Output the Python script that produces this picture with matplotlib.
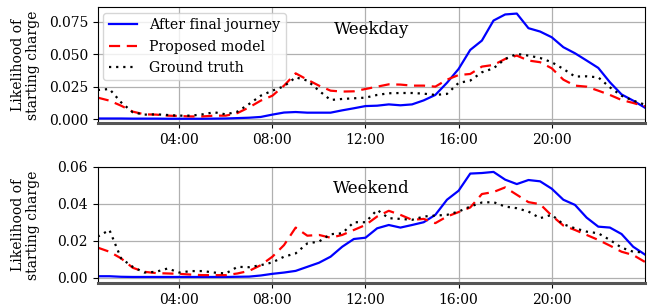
import matplotlib
matplotlib.use("Agg")
import matplotlib.pyplot as plt
import numpy as np

plt.rcParams["font.family"] = ["DejaVu Serif"]
plt.rcParams["font.size"] = 10

# half-hour bins, 00:30 .. 24:00
hours = np.arange(1, 49) * 0.5

weekday_after_final = [
    0.0004, 0.0004, 0.0004, 0.0003, 0.0003, 0.0003, 0.0002, 0.0002,
    0.0002, 0.0002, 0.0003, 0.0004, 0.0007, 0.0010, 0.0016, 0.0034,
    0.0050, 0.0054, 0.0049, 0.0049, 0.0049, 0.0067, 0.0083, 0.0100,
    0.0103, 0.0113, 0.0106, 0.0113, 0.0144, 0.0186, 0.0280, 0.0387,
    0.0534, 0.0606, 0.0761, 0.0808, 0.0815, 0.0702, 0.0676, 0.0632,
    0.0555, 0.0508, 0.0452, 0.0395, 0.0284, 0.0190, 0.0142, 0.0088,
]
weekday_proposed = [
    0.0165, 0.0142, 0.0103, 0.0057, 0.0036, 0.0034, 0.0026, 0.0023,
    0.0020, 0.0020, 0.0026, 0.0026, 0.0046, 0.0090, 0.0142, 0.0180,
    0.0258, 0.0353, 0.0304, 0.0258, 0.0219, 0.0212, 0.0214, 0.0232,
    0.0250, 0.0268, 0.0266, 0.0258, 0.0258, 0.0250, 0.0304, 0.0340,
    0.0348, 0.0405, 0.0418, 0.0464, 0.0490, 0.0452, 0.0439, 0.0392,
    0.0304, 0.0258, 0.0250, 0.0219, 0.0186, 0.0147, 0.0124, 0.0098,
]
weekday_truth = [
    0.0224, 0.0232, 0.0129, 0.0052, 0.0034, 0.0036, 0.0031, 0.0026,
    0.0026, 0.0036, 0.0052, 0.0036, 0.0057, 0.0116, 0.0180, 0.0219,
    0.0253, 0.0322, 0.0297, 0.0219, 0.0147, 0.0155, 0.0160, 0.0165,
    0.0186, 0.0199, 0.0201, 0.0201, 0.0196, 0.0186, 0.0194, 0.0279,
    0.0297, 0.0361, 0.0392, 0.0464, 0.0503, 0.0490, 0.0472, 0.0439,
    0.0387, 0.0328, 0.0330, 0.0322, 0.0245, 0.0180, 0.0142, 0.0111,
]

weekend_after_final = [
    0.0007, 0.0007, 0.0004, 0.0003, 0.0003, 0.0003, 0.0003, 0.0003,
    0.0003, 0.0003, 0.0003, 0.0003, 0.0004, 0.0005, 0.0011, 0.0020,
    0.0027, 0.0036, 0.0058, 0.0080, 0.0113, 0.0167, 0.0209, 0.0216,
    0.0267, 0.0285, 0.0271, 0.0285, 0.0300, 0.0340, 0.0422, 0.0471,
    0.0564, 0.0567, 0.0573, 0.0531, 0.0507, 0.0529, 0.0522, 0.0482,
    0.0422, 0.0394, 0.0325, 0.0276, 0.0271, 0.0236, 0.0167, 0.0125,
]
weekend_proposed = [
    0.0162, 0.0140, 0.0104, 0.0053, 0.0031, 0.0024, 0.0022, 0.0020,
    0.0016, 0.0013, 0.0013, 0.0013, 0.0022, 0.0036, 0.0067, 0.0113,
    0.0176, 0.0271, 0.0227, 0.0231, 0.0216, 0.0231, 0.0258, 0.0285,
    0.0331, 0.0362, 0.0340, 0.0313, 0.0318, 0.0295, 0.0331, 0.0355,
    0.0380, 0.0453, 0.0464, 0.0489, 0.0449, 0.0409, 0.0398, 0.0336,
    0.0282, 0.0258, 0.0231, 0.0204, 0.0173, 0.0140, 0.0122, 0.0085,
]
weekend_truth = [
    0.0222, 0.0258, 0.0104, 0.0058, 0.0027, 0.0031, 0.0049, 0.0027,
    0.0035, 0.0035, 0.0027, 0.0022, 0.0058, 0.0056, 0.0067, 0.0082,
    0.0113, 0.0131, 0.0185, 0.0195, 0.0235, 0.0240, 0.0300, 0.0300,
    0.0367, 0.0322, 0.0318, 0.0313, 0.0331, 0.0336, 0.0340, 0.0358,
    0.0385, 0.0407, 0.0409, 0.0385, 0.0376, 0.0358, 0.0322, 0.0340,
    0.0289, 0.0267, 0.0249, 0.0240, 0.0204, 0.0162, 0.0140, 0.0136,
]

xticks = [4, 8, 12, 16, 20]
xticklabels = ["04:00", "08:00", "12:00", "16:00", "20:00"]

fig = plt.figure(figsize=(6.52, 3.08), dpi=100)
ax1 = fig.add_axes([0.150, 0.601, 0.839, 0.376])
ax2 = fig.add_axes([0.150, 0.081, 0.839, 0.377])

panels = [
    (ax1, "Weekday", weekday_after_final, weekday_proposed, weekday_truth,
     [0, 0.025, 0.05, 0.075], "{:.3f}", (-0.003, 0.0865)),
    (ax2, "Weekend", weekend_after_final, weekend_proposed, weekend_truth,
     [0, 0.02, 0.04, 0.06], "{:.2f}", (-0.003, 0.06)),
]

for ax, title, after, proposed, truth, yt, fmt, ylim in panels:
    ax.plot(hours, after, color="blue", lw=1.6, label="After final journey")
    ax.plot(hours, proposed, color="red", lw=1.6, ls=(0, (5, 3)), label="Proposed model")
    ax.plot(hours, truth, color="black", lw=1.6, ls=(0, (1, 2.2)), label="Ground truth")
    ax.set_xlim(0.5, 24)
    ax.set_ylim(*ylim)
    ax.set_xticks(xticks)
    ax.set_xticklabels(xticklabels)
    ax.set_yticks(yt)
    ax.set_yticklabels([fmt.format(v) for v in yt])
    ax.grid(True, color="#b0b0b0", lw=0.9)
    ax.set_axisbelow(True)
    ax.spines["bottom"].set_color("#555555")
    ax.spines["bottom"].set_linewidth(2.2)
    ax.set_ylabel("Likelihood of\nstarting charge", fontsize=10, linespacing=1.1)
    ax.yaxis.set_label_coords(-0.105, 0.5)
    ax.text(0.5, 0.81, title, transform=ax.transAxes, ha="center", va="center", fontsize=12)

ax1.legend(loc="upper left", fontsize=10.2, framealpha=0.8, borderaxespad=0.4)

fig.savefig("out.png", dpi=100)
